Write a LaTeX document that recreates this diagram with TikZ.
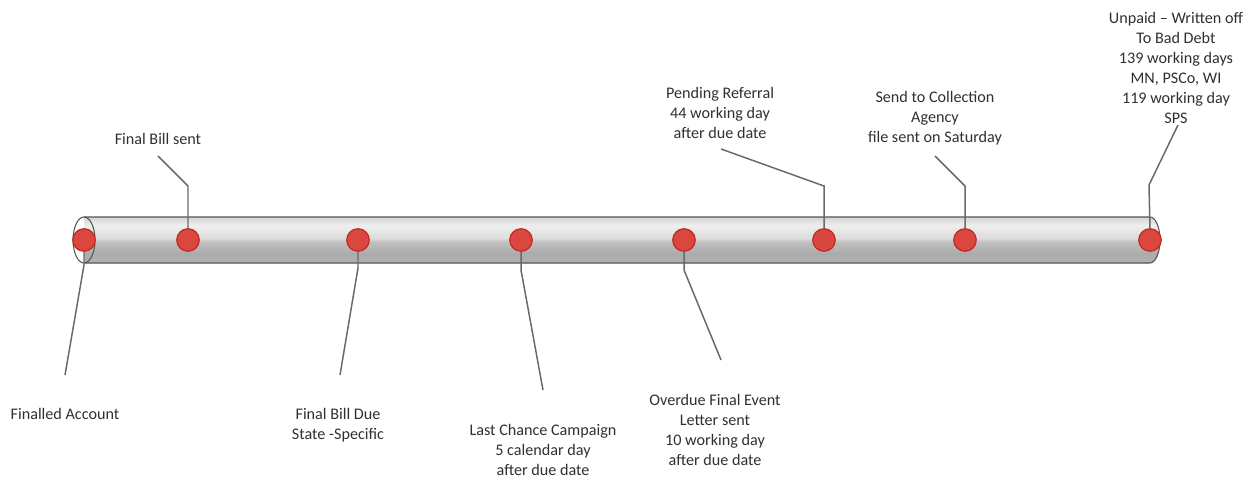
\documentclass[tikz,border=0pt]{standalone}
\usepackage{fontspec}
\setmainfont{Carlito}
\usetikzlibrary{positioning}

\definecolor{dotred}{HTML}{D9473E}
\definecolor{dotedge}{HTML}{C22A20}
\definecolor{linegray}{HTML}{6A6A6A}
\definecolor{edgegray}{HTML}{555555}
\definecolor{textgray}{HTML}{303030}
\definecolor{tubetop}{HTML}{D4D4D4}
\definecolor{tubehi}{HTML}{EEEEEE}
\definecolor{tubelight}{HTML}{DCDCDC}
\definecolor{tubemid}{HTML}{C0C0C0}
\definecolor{tubedark}{HTML}{ABABAB}
\definecolor{tubebot}{HTML}{B2B2B2}

\pgfdeclareverticalshading{tubeshade}{100bp}{color(0bp)=(tubebot); color(25bp)=(tubebot); color(35bp)=(tubedark); color(48bp)=(tubemid); color(52bp)=(tubelight); color(66bp)=(tubehi); color(75bp)=(tubetop); color(100bp)=(tubetop)}

\begin{document}
\begin{tikzpicture}[x=0.02cm,y=-0.02cm,
  every node/.style={font=\fontsize{9.2}{11.3}\selectfont, text=textgray, align=center, inner sep=0pt},
  event/.style={circle, minimum size=0.45cm, fill=dotred, draw=dotedge, line width=0.7pt},
  leader/.style={draw=linegray, line width=0.85pt},
  tubeedge/.style={draw=edgegray, line width=0.6pt}]
  \useasboundingbox (0,0) rectangle (1259,477);

  % tube
  \path[shading=tubeshade] (84,217) -- (1150,217)
    arc[start angle=-90, end angle=90, x radius=10, y radius=23] -- (84,263) -- cycle;
  \draw[tubeedge] (84,217) -- (1150,217)
    arc[start angle=-90, end angle=90, x radius=10, y radius=23] -- (84,263);
  \draw[tubeedge] (84,240) ellipse[x radius=11, y radius=23];

  % events on the tube
  \foreach \x/\n in {84/fa, 188/bs, 358/bd, 521/lc, 684/od, 824/pr, 965/ca, 1150/bb} {
    \node[event] (\n) at (\x,240) {};
  }

  % labels
  \node (faText) at (65,414) {Finalled Account};
  \node (bsText) at (158,139) {Final Bill sent};
  \node (bdText) at (338,425) {Final Bill Due\\State -Specific};
  \node (lcText) at (543,450) {Last Chance Campaign\\5 calendar day\\after due date};
  \node (odText) at (715,430) {Overdue Final Event\\Letter sent\\10 working day\\after due date};
  \node (prText) at (720,113) {Pending Referral\\44 working day\\after due date};
  \node (caText) at (935,118) {Send to Collection\\Agency\\file sent on Saturday};
  \node (bbText) at (1176,68) {Unpaid -- Written off\\To Bad Debt\\139 working days\\MN, PSCo, WI\\119 working day\\SPS};

  % leader ends
  \coordinate (faEnd) at (65,375);
  \coordinate (bsEnd) at (158,156);
  \coordinate (bdEnd) at (340,375);
  \coordinate (lcEnd) at (543,390);
  \coordinate (odEnd) at (721,360);
  \coordinate (prEnd) at (721,149);
  \coordinate (caEnd) at (935,156);
  \coordinate (bbEnd) at (1178,125);

  % leaders
  \draw[leader] (fa.south) -- (84,265) -- (faEnd);
  \draw[leader] (bs.north) -- (188,186) -- (bsEnd);
  \draw[leader] (bd.south) -- (358,268) -- (bdEnd);
  \draw[leader] (lc.south) -- (521,270) -- (lcEnd);
  \draw[leader] (od.south) -- (684,270) -- (odEnd);
  \draw[leader] (pr.north) -- (824,186) -- (prEnd);
  \draw[leader] (ca.north) -- (965,186) -- (caEnd);
  \draw[leader] (bb.north) -- (1149,185) -- (bbEnd);
\end{tikzpicture}
\end{document}
